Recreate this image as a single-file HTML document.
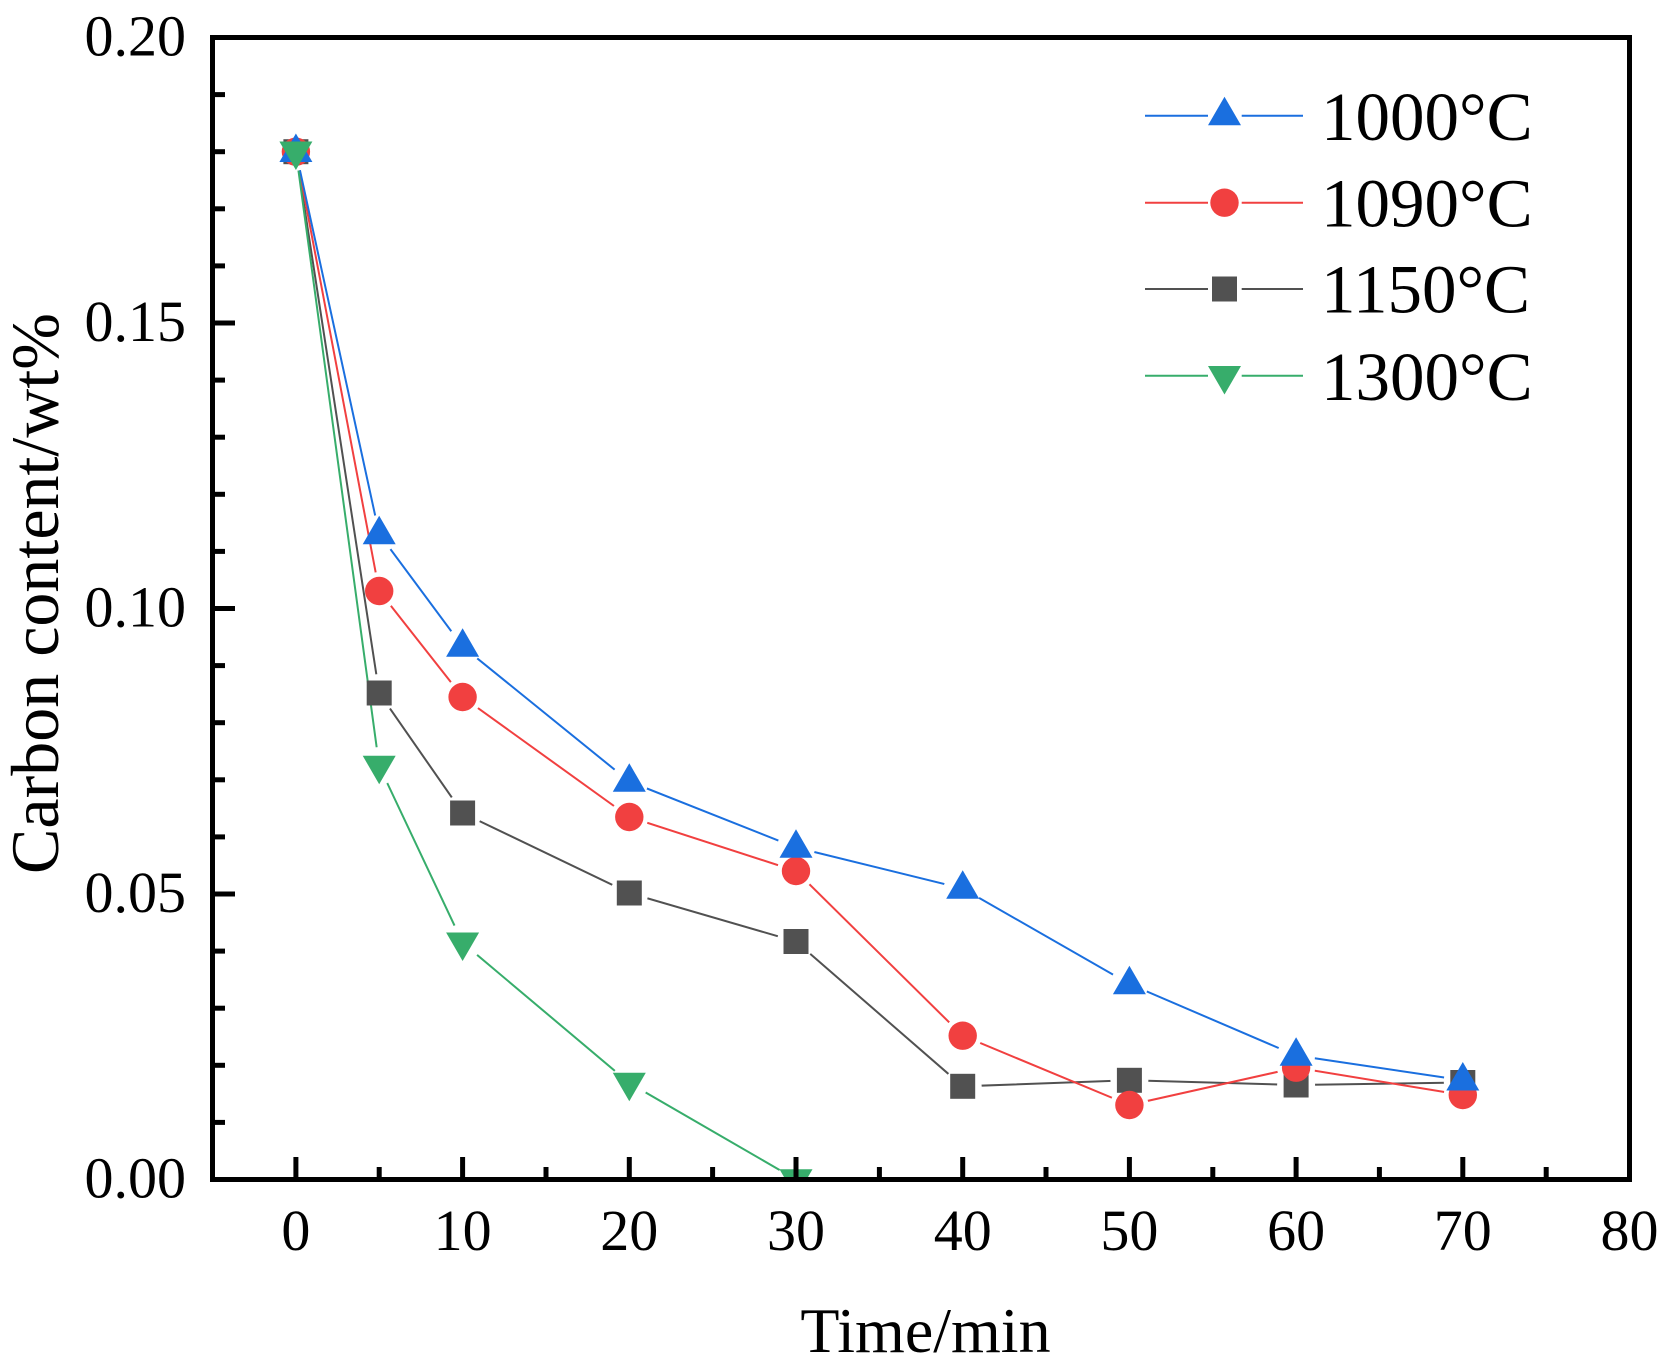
<!DOCTYPE html>
<html>
<head>
<meta charset="utf-8">
<style>
html,body{margin:0;padding:0;background:#fff;}
svg{display:block;}
text{font-family:"Liberation Serif","Times New Roman",serif;fill:#000;}
</style>
</head>
<body>
<svg width="1672" height="1367" viewBox="0 0 1672 1367" xmlns="http://www.w3.org/2000/svg">
<defs>
  <clipPath id="plot"><rect x="215" y="40" width="1412" height="1137"/></clipPath>
  <mask id="mGray" maskUnits="userSpaceOnUse" x="0" y="0" width="1672" height="1367">
    <rect x="0" y="0" width="1672" height="1367" fill="#fff"/>
    <g fill="#000">
      <circle cx="295.9" cy="151.7" r="19"/><circle cx="379.2" cy="693" r="19"/><circle cx="462.6" cy="813" r="19"/>
      <circle cx="629.3" cy="893" r="19"/><circle cx="796" cy="941.5" r="19"/><circle cx="962.7" cy="1086.3" r="19"/>
      <circle cx="1129.4" cy="1080.3" r="19"/><circle cx="1296.1" cy="1085" r="19"/><circle cx="1462.8" cy="1082.5" r="19"/>
    </g>
  </mask>
  <mask id="mRed" maskUnits="userSpaceOnUse" x="0" y="0" width="1672" height="1367">
    <rect x="0" y="0" width="1672" height="1367" fill="#fff"/>
    <g fill="#000">
      <circle cx="295.9" cy="151.7" r="19"/><circle cx="379.2" cy="591" r="19"/><circle cx="462.6" cy="697" r="19"/>
      <circle cx="629.3" cy="817" r="19"/><circle cx="796" cy="871" r="19"/><circle cx="962.7" cy="1035.7" r="19"/>
      <circle cx="1129.4" cy="1105" r="19"/><circle cx="1296.1" cy="1067.7" r="19"/><circle cx="1462.8" cy="1095" r="19"/>
    </g>
  </mask>
  <mask id="mBlue" maskUnits="userSpaceOnUse" x="0" y="0" width="1672" height="1367">
    <rect x="0" y="0" width="1672" height="1367" fill="#fff"/>
    <g fill="#000">
      <circle cx="295.9" cy="151.7" r="19"/><circle cx="379.2" cy="534" r="19"/><circle cx="462.6" cy="646.5" r="19"/>
      <circle cx="629.3" cy="781.5" r="19"/><circle cx="796" cy="847.5" r="19"/><circle cx="962.7" cy="888.5" r="19"/>
      <circle cx="1129.4" cy="984" r="19"/><circle cx="1296.1" cy="1055.5" r="19"/><circle cx="1462.8" cy="1080.3" r="19"/>
    </g>
  </mask>
  <mask id="mGreen" maskUnits="userSpaceOnUse" x="0" y="0" width="1672" height="1367">
    <rect x="0" y="0" width="1672" height="1367" fill="#fff"/>
    <g fill="#000">
      <circle cx="295.9" cy="151.7" r="19"/><circle cx="379.2" cy="766" r="19"/><circle cx="462.6" cy="942.7" r="19"/>
      <circle cx="629.3" cy="1083" r="19"/><circle cx="796" cy="1179.5" r="19"/>
    </g>
  </mask>
</defs>

<rect x="0" y="0" width="1672" height="1367" fill="#fff"/>

<!-- series -->
<g clip-path="url(#plot)">
  <polyline mask="url(#mGray)" fill="none" stroke="#515151" stroke-width="2"
    points="295.9,151.7 379.2,693 462.6,813 629.3,893 796,941.5 962.7,1086.3 1129.4,1080.3 1296.1,1085 1462.8,1082.5"/>
  <polyline mask="url(#mRed)" fill="none" stroke="#F14040" stroke-width="2"
    points="295.9,151.7 379.2,591 462.6,697 629.3,817 796,871 962.7,1035.7 1129.4,1105 1296.1,1067.7 1462.8,1095"/>
  <polyline mask="url(#mBlue)" fill="none" stroke="#1A6FDF" stroke-width="2"
    points="295.9,151.7 379.2,534 462.6,646.5 629.3,781.5 796,847.5 962.7,888.5 1129.4,984 1296.1,1055.5 1462.8,1080.3"/>
  <polyline mask="url(#mGreen)" fill="none" stroke="#37AD6B" stroke-width="2"
    points="295.9,151.7 379.2,766 462.6,942.7 629.3,1083 796,1179.5"/>

  <g fill="#515151">
    <rect x="283.4" y="139.2" width="25" height="25"/>
    <rect x="366.7" y="680.5" width="25" height="25"/>
    <rect x="450.1" y="800.5" width="25" height="25"/>
    <rect x="616.8" y="880.5" width="25" height="25"/>
    <rect x="783.5" y="929" width="25" height="25"/>
    <rect x="950.2" y="1073.8" width="25" height="25"/>
    <rect x="1116.9" y="1067.8" width="25" height="25"/>
    <rect x="1283.6" y="1072.5" width="25" height="25"/>
    <rect x="1450.3" y="1070" width="25" height="25"/>
  </g>
  <g fill="#F14040">
    <circle cx="295.9" cy="151.7" r="14.2"/>
    <circle cx="379.2" cy="591" r="14.2"/>
    <circle cx="462.6" cy="697" r="14.2"/>
    <circle cx="629.3" cy="817" r="14.2"/>
    <circle cx="796" cy="871" r="14.2"/>
    <circle cx="962.7" cy="1035.7" r="14.2"/>
    <circle cx="1129.4" cy="1105" r="14.2"/>
    <circle cx="1296.1" cy="1067.7" r="14.2"/>
    <circle cx="1462.8" cy="1095" r="14.2"/>
  </g>
  <g fill="#1A6FDF">
    <polygon points="295.9,133.45 279.4,161.95 312.4,161.95"/>
    <polygon points="379.2,515.75 362.7,544.25 395.7,544.25"/>
    <polygon points="462.6,628.25 446.1,656.75 479.1,656.75"/>
    <polygon points="629.3,763.25 612.8,791.75 645.8,791.75"/>
    <polygon points="796,829.25 779.5,857.75 812.5,857.75"/>
    <polygon points="962.7,870.25 946.2,898.75 979.2,898.75"/>
    <polygon points="1129.4,965.75 1112.9,994.25 1145.9,994.25"/>
    <polygon points="1296.1,1037.25 1279.6,1065.75 1312.6,1065.75"/>
    <polygon points="1462.8,1062.05 1446.3,1090.55 1479.3,1090.55"/>
  </g>
  <g fill="#37AD6B">
    <polygon points="279.4,141.45 312.4,141.45 295.9,169.95"/>
    <polygon points="362.7,755.75 395.7,755.75 379.2,784.25"/>
    <polygon points="446.1,932.45 479.1,932.45 462.6,960.95"/>
    <polygon points="612.8,1072.75 645.8,1072.75 629.3,1101.25"/>
    <polygon points="779.5,1169.25 812.5,1169.25 796,1197.75"/>
  </g>
</g>

<rect x="212.5" y="37.5" width="1417" height="1142" fill="none" stroke="#000" stroke-width="5"/>

<g stroke="#000" stroke-width="5">
  <line x1="212.5" y1="894" x2="235" y2="894"/>
  <line x1="212.5" y1="608.5" x2="235" y2="608.5"/>
  <line x1="212.5" y1="323" x2="235" y2="323"/>
  <line x1="212.5" y1="1122.4" x2="225" y2="1122.4"/>
  <line x1="212.5" y1="1065.3" x2="225" y2="1065.3"/>
  <line x1="212.5" y1="1008.2" x2="225" y2="1008.2"/>
  <line x1="212.5" y1="951.1" x2="225" y2="951.1"/>
  <line x1="212.5" y1="836.9" x2="225" y2="836.9"/>
  <line x1="212.5" y1="779.8" x2="225" y2="779.8"/>
  <line x1="212.5" y1="722.7" x2="225" y2="722.7"/>
  <line x1="212.5" y1="665.6" x2="225" y2="665.6"/>
  <line x1="212.5" y1="551.4" x2="225" y2="551.4"/>
  <line x1="212.5" y1="494.3" x2="225" y2="494.3"/>
  <line x1="212.5" y1="437.2" x2="225" y2="437.2"/>
  <line x1="212.5" y1="380.1" x2="225" y2="380.1"/>
  <line x1="212.5" y1="265.9" x2="225" y2="265.9"/>
  <line x1="212.5" y1="208.8" x2="225" y2="208.8"/>
  <line x1="212.5" y1="151.7" x2="225" y2="151.7"/>
  <line x1="212.5" y1="94.6" x2="225" y2="94.6"/>
</g>

<g stroke="#000" stroke-width="5">
  <line x1="295.9" y1="1179.5" x2="295.9" y2="1157"/>
  <line x1="462.6" y1="1179.5" x2="462.6" y2="1157"/>
  <line x1="629.3" y1="1179.5" x2="629.3" y2="1157"/>
  <line x1="796" y1="1179.5" x2="796" y2="1157"/>
  <line x1="962.7" y1="1179.5" x2="962.7" y2="1157"/>
  <line x1="1129.4" y1="1179.5" x2="1129.4" y2="1157"/>
  <line x1="1296.1" y1="1179.5" x2="1296.1" y2="1157"/>
  <line x1="1462.8" y1="1179.5" x2="1462.8" y2="1157"/>
  <line x1="379.2" y1="1179.5" x2="379.2" y2="1167"/>
  <line x1="546" y1="1179.5" x2="546" y2="1167"/>
  <line x1="712.6" y1="1179.5" x2="712.6" y2="1167"/>
  <line x1="879.4" y1="1179.5" x2="879.4" y2="1167"/>
  <line x1="1046" y1="1179.5" x2="1046" y2="1167"/>
  <line x1="1212.8" y1="1179.5" x2="1212.8" y2="1167"/>
  <line x1="1379.4" y1="1179.5" x2="1379.4" y2="1167"/>
  <line x1="1546.2" y1="1179.5" x2="1546.2" y2="1167"/>
</g>

<g font-size="58" text-anchor="end">
  <text x="186" y="55.5">0.20</text>
  <text x="186" y="341">0.15</text>
  <text x="186" y="626.5">0.10</text>
  <text x="186" y="912">0.05</text>
  <text x="186" y="1197.5">0.00</text>
</g>

<g font-size="58" text-anchor="middle">
  <text x="295.9" y="1250">0</text>
  <text x="462.6" y="1250">10</text>
  <text x="629.3" y="1250">20</text>
  <text x="796" y="1250">30</text>
  <text x="962.7" y="1250">40</text>
  <text x="1129.4" y="1250">50</text>
  <text x="1296.1" y="1250">60</text>
  <text x="1462.8" y="1250">70</text>
  <text x="1629.5" y="1250">80</text>
</g>

<text x="925.5" y="1352" font-size="64" text-anchor="middle">Time/min</text>
<text transform="translate(58,593.5) rotate(-90)" font-size="68" text-anchor="middle">Carbon content/wt%</text>

<g stroke-width="2">
  <line x1="1145" y1="115.7" x2="1208" y2="115.7" stroke="#1A6FDF"/>
  <line x1="1241.7" y1="115.7" x2="1303" y2="115.7" stroke="#1A6FDF"/>
  <line x1="1145" y1="202.7" x2="1208" y2="202.7" stroke="#F14040"/>
  <line x1="1241.7" y1="202.7" x2="1303" y2="202.7" stroke="#F14040"/>
  <line x1="1145" y1="289" x2="1208" y2="289" stroke="#515151"/>
  <line x1="1241.7" y1="289" x2="1303" y2="289" stroke="#515151"/>
  <line x1="1145" y1="375.7" x2="1208" y2="375.7" stroke="#37AD6B"/>
  <line x1="1241.7" y1="375.7" x2="1303" y2="375.7" stroke="#37AD6B"/>
</g>
<polygon points="1224.5,96.7 1208,125.2 1241,125.2" fill="#1A6FDF"/>
<circle cx="1224.5" cy="202.7" r="14.2" fill="#F14040"/>
<rect x="1212" y="276.5" width="25" height="25" fill="#515151"/>
<polygon points="1208,366 1241,366 1224.5,394.5" fill="#37AD6B"/>
<g font-size="69">
  <text x="1321" y="140">1000°C</text>
  <text x="1321" y="226.5">1090°C</text>
  <text x="1321" y="312.7">1150°C</text>
  <text x="1321" y="400">1300°C</text>
</g>
</svg>
</body>
</html>
